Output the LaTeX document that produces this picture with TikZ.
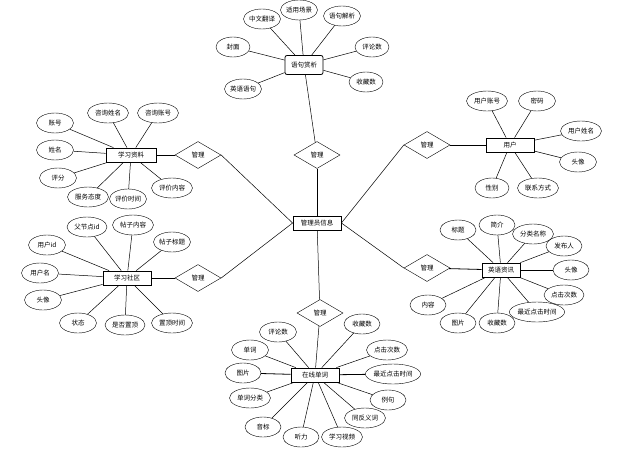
\documentclass[tikz,border=0pt]{standalone}
\usepackage{fontspec}
\setmainfont{Noto Sans CJK SC}
\usetikzlibrary{shapes.geometric}
\tikzset{
    shiti/.style={draw,line width=0.8pt,minimum width=48pt,minimum height=14pt,inner sep=1pt,fill=white,font=\fontsize{6.5pt}{7pt}\selectfont},
    shuxing/.style={draw,ellipse,minimum width=37pt,minimum height=20pt,inner sep=0pt,font=\fontsize{6.5pt}{7pt}\selectfont},
    guanxi/.style={draw,diamond,aspect=1.75,minimum width=46pt,minimum height=27pt,inner sep=0pt,font=\fontsize{6.5pt}{7pt}\selectfont},
    lian/.style={line width=0.5pt},
  }
\begin{document}
\begin{tikzpicture}[x=1pt,y=-1pt]
				  \useasboundingbox (0,0) rectangle (642,450);
				  %管理员信息
				  \node[shiti] (admin) at (317,223) {管理员信息};
				  \node[guanxi] (r_t) at (317,155) {管理};
				  \node[guanxi] (r_lt) at (198,155) {管理};
				  \node[guanxi] (r_rt) at (427,145) {管理};
				  \node[guanxi] (r_lb) at (198,278) {管理};
				  \node[guanxi] (r_rb) at (427,268) {管理};
				  \node[guanxi] (r_b) at (320,313) {管理};
				  \draw[lian] (admin) -- (r_t);
				  \draw[lian] (admin.west) -- (r_lt.east);
				  \draw[lian] (admin.east) -- (r_rt.west);
				  \draw[lian] (admin.west) -- (r_lb.east);
				  \draw[lian] (admin.east) -- (r_rb.west);
				  \draw[lian] (admin) -- (r_b);
				  
				  %语句赏析
				  \node[shiti,rounded corners=2pt,minimum width=38pt,minimum height=19pt] (yuju) at (304,65) {语句赏析};
				  \node[shuxing] (zwfy) at (262,19) {中文翻译};
				  \node[shuxing] (sycj) at (299,10) {适用场景};
				  \node[shuxing] (yjjx) at (342,16) {语句解析};
				  \node[shuxing,minimum width=34pt] (fm) at (233,47) {封面};
				  \node[shuxing,minimum width=34pt] (pls1) at (372,47) {评论数};
				  \node[shuxing] (yyyj) at (243,89) {英语语句};
				  \node[shuxing,minimum width=34pt] (scs1) at (366,82) {收藏数};
				  \draw[lian] (zwfy) -- (yuju);
				  \draw[lian] (sycj) -- (yuju);
				  \draw[lian] (yjjx) -- (yuju);
				  \draw[lian] (fm) -- (yuju);
				  \draw[lian] (pls1) -- (yuju);
				  \draw[lian] (yyyj) -- (yuju);
				  \draw[lian] (scs1) -- (yuju);
				  \draw[lian] (yuju) -- (r_t);
				  
				  %学习资料
				  \node[shiti,minimum width=50pt] (xxzl) at (131,155) {学习资料};
				  \node[shuxing] (zh) at (55,123) {账号};
				  \node[shuxing] (xm) at (55,150) {姓名};
				  \node[shuxing] (pf) at (58,178) {评分};
				  \node[shuxing,minimum width=41pt] (fwtd) at (88,197) {服务态度};
				  \node[shuxing] (pjsj) at (128,199) {评价时间};
				  \node[shuxing,minimum width=41pt] (pjnr) at (172,188) {评价内容};
				  \node[shuxing,minimum width=41pt] (zxxm) at (108,113) {咨询姓名};
				  \node[shuxing,minimum width=41pt] (zxzh) at (158,113) {咨询账号};
				  \draw[lian] (zh) -- (xxzl);
				  \draw[lian] (xm) -- (xxzl);
				  \draw[lian] (pf) -- (xxzl);
				  \draw[lian] (fwtd) -- (xxzl);
				  \draw[lian] (pjsj) -- (xxzl);
				  \draw[lian] (pjnr) -- (xxzl);
				  \draw[lian] (zxxm) -- (xxzl);
				  \draw[lian] (zxzh) -- (xxzl);
				  \draw[line width=0.8pt] (xxzl) -- (r_lt);
				  
				  %用户
				  \node[shiti] (yh) at (510,145) {用户};
				  \node[shuxing,minimum width=41pt] (yhzh) at (487,101) {用户账号};
				  \node[shuxing] (mm) at (537,101) {密码};
				  \node[shuxing,minimum width=41pt] (yhxm) at (581,131) {用户姓名};
				  \node[shuxing] (tx1) at (578,162) {头像};
				  \node[shuxing,minimum width=34pt] (xb) at (492,188) {性别};
				  \node[shuxing,minimum width=41pt] (lxfs) at (538,188) {联系方式};
				  \draw[lian] (yhzh) -- (yh);
				  \draw[lian] (mm) -- (yh);
				  \draw[lian] (yhxm) -- (yh);
				  \draw[lian] (tx1) -- (yh);
				  \draw[lian] (xb) -- (yh);
				  \draw[lian] (lxfs) -- (yh);
				  \draw[line width=0.8pt] (yh) -- (r_rt);
				  
				  %学习社区
				  \node[shiti] (xxsq) at (127,278) {学习社区};
				  \node[shuxing,minimum width=40pt] (fjd) at (87,227) {父节点id};
				  \node[shuxing,minimum width=41pt] (tznr) at (133,225) {帖子内容};
				  \node[shuxing] (tzbt) at (172,242) {帖子标题};
				  \node[shuxing] (yhid) at (47,245) {用户id};
				  \node[shuxing] (yhm) at (40,273) {用户名};
				  \node[shuxing] (tx2) at (43,300) {头像};
				  \node[shuxing] (zt) at (78,323) {状态};
				  \node[shuxing,minimum width=40pt] (sfzd) at (125,325) {是否置顶};
				  \node[shuxing,minimum width=41pt] (zdsj) at (172,323) {置顶时间};
				  \draw[lian] (fjd) -- (xxsq);
				  \draw[lian] (tznr) -- (xxsq);
				  \draw[lian] (tzbt) -- (xxsq);
				  \draw[lian] (yhid) -- (xxsq);
				  \draw[lian] (yhm) -- (xxsq);
				  \draw[lian] (tx2) -- (xxsq);
				  \draw[lian] (zt) -- (xxsq);
				  \draw[lian] (sfzd) -- (xxsq);
				  \draw[lian] (zdsj) -- (xxsq);
				  \draw[line width=0.8pt] (xxsq) -- (r_lb);
				  
				  %英语资讯
				  \node[shiti,minimum width=38pt] (yyzx) at (501,270) {英语资讯};
				  \node[shuxing,minimum width=36pt] (bt) at (458,230) {标题};
				  \node[shuxing,minimum width=36pt] (jj) at (497,225) {简介};
				  \node[shuxing,minimum width=41pt] (flmc) at (533,234) {分类名称};
				  \node[shuxing,minimum width=36pt] (fbr) at (564,246) {发布人};
				  \node[shuxing,minimum width=36pt] (tx3) at (571,270) {头像};
				  \node[shuxing,minimum width=40pt] (djcs1) at (564,295) {点击次数};
				  \node[shuxing] (zjdj1) at (537,312) {最近点击时间};
				  \node[shuxing,minimum width=36pt] (scs2) at (497,323) {收藏数};
				  \node[shuxing,minimum width=36pt] (tp1) at (458,323) {图片};
				  \node[shuxing,minimum width=36pt] (nr) at (428,305) {内容};
				  \draw[lian] (bt) -- (yyzx);
				  \draw[lian] (jj) -- (yyzx);
				  \draw[lian] (flmc) -- (yyzx);
				  \draw[lian] (fbr) -- (yyzx);
				  \draw[lian] (tx3) -- (yyzx);
				  \draw[lian] (djcs1) -- (yyzx);
				  \draw[lian] (zjdj1) -- (yyzx);
				  \draw[lian] (scs2) -- (yyzx);
				  \draw[lian] (tp1) -- (yyzx);
				  \draw[lian] (nr) -- (yyzx);
				  \draw[line width=0.8pt] (yyzx) -- (r_rb);
				  
				  %在线单词
				  \node[shiti] (zxdc) at (315,375) {在线单词};
				  \node[shuxing] (pls2) at (278,332) {评论数};
				  \node[shuxing,minimum width=36pt] (scs3) at (362,324) {收藏数};
				  \node[shuxing] (dc) at (250,350) {单词};
				  \node[shuxing,minimum width=41pt] (djcs2) at (387,350) {点击次数};
				  \node[shuxing,minimum width=36pt] (tp2) at (243,373) {图片};
				  \node[shuxing] (zjdj2) at (393,374) {最近点击时间};
				  \node[shuxing,minimum width=41pt] (dcfl) at (250,398) {单词分类};
				  \node[shuxing,minimum width=36pt] (lj) at (388,400) {例句};
				  \node[shuxing,minimum width=41pt] (tfyc) at (365,418) {同反义词};
				  \node[shuxing,minimum width=36pt] (yb) at (263,427) {音标};
				  \node[shuxing,minimum width=36pt] (tl) at (301,437) {听力};
				  \node[shuxing,minimum width=41pt] (xxsp) at (342,437) {学习视频};
				  \draw[lian] (pls2) -- (zxdc);
				  \draw[lian] (scs3) -- (zxdc);
				  \draw[lian] (dc) -- (zxdc);
				  \draw[lian] (djcs2) -- (zxdc);
				  \draw[line width=0.8pt] (tp2) -- (zxdc);
				  \draw[line width=0.8pt] (zjdj2) -- (zxdc);
				  \draw[lian] (dcfl) -- (zxdc);
				  \draw[lian] (lj) -- (zxdc);
				  \draw[lian] (tfyc) -- (zxdc);
				  \draw[lian] (yb) -- (zxdc);
				  \draw[lian] (tl) -- (zxdc);
				  \draw[lian] (xxsp) -- (zxdc);
				  \draw[lian] (zxdc) -- (r_b);
				  
				  \end{tikzpicture}
\end{document}
